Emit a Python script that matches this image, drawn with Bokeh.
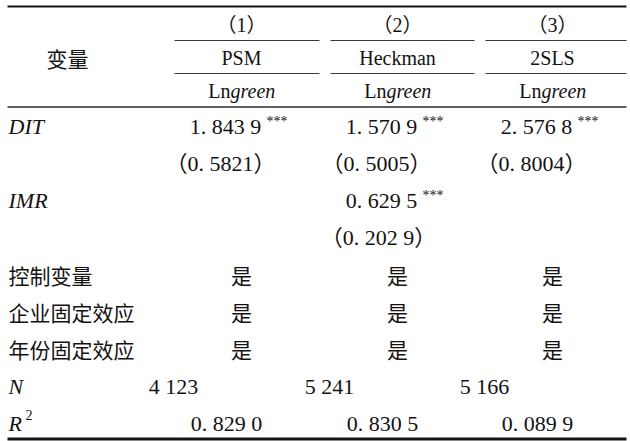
from bokeh.plotting import figure
from bokeh.models import ColumnDataSource, Range1d
from bokeh.core.properties import value
from bokeh.embed import file_html
from bokeh.resources import INLINE

# ---------------- data ----------------
col_numbers = ["（1）", "（2）", "（3）"]
models = ["PSM", "Heckman", "2SLS"]
dep_prefix = ["Ln", "Ln", "Ln"]
dep_suffix = ["green", "green", "green"]
var_header = "变量"

dit_coef = ["1. 843 9", "1. 570 9", "2. 576 8"]
dit_stars = ["***", "***", "***"]
dit_se = ["（0. 5821）", "（0. 5005）", "（0. 8004）"]
imr_coef = ["", "0. 629 5", ""]
imr_stars = ["", "***", ""]
imr_se = ["", "（0. 202 9）", ""]
controls = ["是", "是", "是"]
firm_fe = ["是", "是", "是"]
year_fe = ["是", "是", "是"]
n_obs = ["4 123", "5 241", "5 166"]
r2 = ["0. 829 0", "0. 830 5", "0. 089 9"]

italic_labels = ["DIT", "IMR", "N", "R"]
italic_label_rows = [0, 2, 7, 8]
cjk_labels = ["控制变量", "企业固定效应", "年份固定效应"]
cjk_label_rows = [4, 5, 6]
r2_sup = "2"

# ---------------- layout ----------------
SERIF = "Liberation Serif"
CJK = "Noto Sans CJK SC"
MIX = "Liberation Serif, Noto Sans CJK SC"
INK = "#141212"

col_c = [241, 397, 552]          # column text centres
col_l = [174, 330, 485]          # header rule segment starts
col_r = [319, 474, 626]          # header rule segment ends
head_y = [24, 57, 90]
row0, pitch = 126, 37.1
row_y = [row0 + pitch * i for i in range(9)]
left_x = 8

p = figure(width=630, height=441, x_range=Range1d(0, 630), y_range=Range1d(441, 0),
           x_axis_type=None, y_axis_type=None, toolbar_location=None,
           output_backend="svg", min_border=0, outline_line_color=None)
p.grid.visible = False
p.background_fill_color = "white"
p.border_fill_color = "white"

# rules
p.segment(x0=[7], x1=[626], y0=[6], y1=[6], line_width=2.2, line_color=INK)
p.segment(x0=col_l * 2, x1=col_r * 2, y0=[40] * 3 + [73] * 3, y1=[40] * 3 + [73] * 3,
          line_width=1.1, line_color="#3a3a3a")
p.segment(x0=[7], x1=[626], y0=[106.5], y1=[106.5], line_width=1.3, line_color="#2a2a2a")
p.segment(x0=[7], x1=[626], y0=[438.5], y1=[438.5], line_width=3.2, line_color=INK)


def add_text(xs, ys, texts, font=SERIF, size="22px", style="normal", align="center"):
    keep = [(x, y, t) for x, y, t in zip(xs, ys, texts) if t]
    if not keep:
        return
    src = ColumnDataSource(dict(x=[k[0] for k in keep], y=[k[1] for k in keep],
                                t=[k[2] for k in keep]))
    p.text(x="x", y="y", text="t", source=src, text_font=value(font),
           text_font_size=size, text_font_style=style, text_align=align,
           text_baseline="middle", text_color=INK)


# header
add_text([67], [57], [var_header], font=CJK, size="21px")
add_text(col_c, [head_y[0]] * 3, col_numbers, font=MIX, size="20px")
add_text(col_c, [head_y[1]] * 3, models, size="20px")
add_text([c - 11 for c in col_c], [head_y[2]] * 3, dep_prefix, size="20px", align="right")
add_text([c - 11 for c in col_c], [head_y[2]] * 3, dep_suffix, size="20px",
         style="italic", align="left")

# row labels
add_text([left_x] * 4, [row_y[r] for r in italic_label_rows], italic_labels,
         style="italic", align="left")
add_text([left_x] * 3, [row_y[r] for r in cjk_label_rows], cjk_labels, font=CJK,
         size="21px", align="left")
add_text([left_x + 17], [row_y[8] - 8], [r2_sup], size="14px", align="left")

# body
add_text([c - 16 for c in col_c], [row_y[0]] * 3, dit_coef)
add_text([c + 25 for c in col_c], [row_y[0] - 5] * 3, dit_stars, size="14px", align="left")
add_text([c - 21 for c in col_c], [row_y[1]] * 3, dit_se, font=MIX)
add_text([c - 16 for c in col_c], [row_y[2]] * 3, imr_coef)
add_text([c + 25 for c in col_c], [row_y[2] - 5] * 3, imr_stars, size="14px", align="left")
add_text([c - 19 for c in col_c], [row_y[3]] * 3, imr_se, font=MIX)
add_text(col_c, [row_y[4]] * 3, controls, font=CJK, size="21px")
add_text(col_c, [row_y[5]] * 3, firm_fe, font=CJK, size="21px")
add_text(col_c, [row_y[6]] * 3, year_fe, font=CJK, size="21px")
add_text([c - 68 for c in col_c], [row_y[7]] * 3, n_obs)
add_text([c - 15 for c in col_c], [row_y[8]] * 3, r2)

open("out.html", "w").write(file_html(p, INLINE))
